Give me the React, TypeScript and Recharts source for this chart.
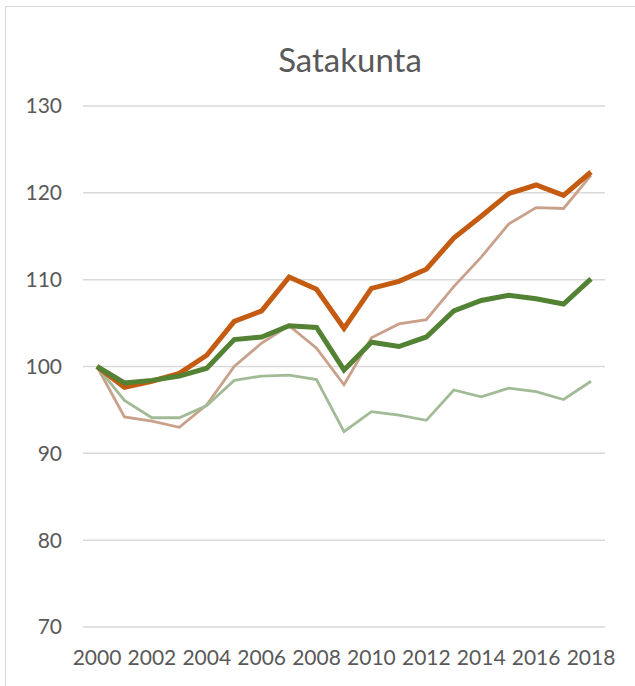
import { LineChart, Line, XAxis, YAxis, CartesianGrid } from 'recharts';

// Satakunta index, 2000 = 100
const years = [
  '2000', '2001', '2002', '2003', '2004', '2005', '2006', '2007', '2008', '2009',
  '2010', '2011', '2012', '2013', '2014', '2015', '2016', '2017', '2018',
];

const orangeThick = [
  100, 97.6, 98.3, 99.2, 101.3, 105.2, 106.4, 110.3, 108.9, 104.4,
  109.0, 109.8, 111.2, 114.8, 117.3, 119.9, 120.9, 119.7, 122.4,
];
const tanThin = [
  100, 94.2, 93.7, 93.0, 95.6, 100.0, 102.7, 104.7, 102.1, 97.9,
  103.3, 104.9, 105.4, 109.2, 112.6, 116.4, 118.3, 118.2, 122.0,
];
const greenThick = [
  100, 98.1, 98.4, 98.9, 99.8, 103.1, 103.4, 104.7, 104.5, 99.6,
  102.8, 102.3, 103.4, 106.4, 107.6, 108.2, 107.8, 107.2, 110.1,
];
const greenThin = [
  100, 96.1, 94.1, 94.1, 95.5, 98.4, 98.9, 99.0, 98.5, 92.5,
  94.8, 94.4, 93.8, 97.3, 96.5, 97.5, 97.1, 96.2, 98.3,
];

const yTicks = [70, 80, 90, 100, 110, 120, 130];

const data = years.map((year, i) => ({
  year,
  orangeThick: orangeThick[i],
  tanThin: tanThin[i],
  greenThick: greenThick[i],
  greenThin: greenThin[i],
}));

const font = 'Lato, "Open Sans", sans-serif';
const tickStyle = { fill: '#595959', fontSize: 21, fontFamily: font };

export default function App() {
  return (
    <div style={{ position: 'absolute', left: 0, top: 0, width: 635, height: 686, background: '#fff', overflow: 'hidden' }}>
      <div
        style={{
          position: 'absolute',
          left: 5,
          top: 6,
          width: 640,
          height: 700,
          border: '1px solid #D9D9D9',
        }}
      />
      <div
        style={{
          position: 'absolute',
          left: 200,
          width: 300,
          top: 39,
          textAlign: 'center',
          fontFamily: font,
          fontSize: 33,
          lineHeight: 'normal',
          color: '#595959',
        }}
      >
        Satakunta
      </div>
      <div style={{ position: 'absolute', left: 0, top: 0 }}>
        <LineChart
          width={635}
          height={686}
          data={data}
          margin={{ top: 106, right: 30, left: 23, bottom: 29 }}
        >
          <CartesianGrid vertical={false} stroke="#D9D9D9" strokeWidth={1.5} />
          <XAxis
            dataKey="year"
            interval={1}
            axisLine={false}
            tickLine={false}
            tickMargin={17}
            height={30}
            padding={{ left: 14, right: 14 }}
            tick={tickStyle}
          />
          <YAxis
            domain={[70, 130]}
            ticks={yTicks}
            axisLine={false}
            tickLine={false}
            tickMargin={15}
            width={60}
            tick={tickStyle}
          />
          <Line
            dataKey="tanThin"
            stroke="#C9A18B"
            strokeWidth={2.8}
            dot={false}
            isAnimationActive={false}
          />
          <Line
            dataKey="greenThin"
            stroke="#A2BB97"
            strokeWidth={2.8}
            dot={false}
            isAnimationActive={false}
          />
          <Line
            dataKey="orangeThick"
            stroke="#C55A11"
            strokeWidth={5}
            dot={false}
            isAnimationActive={false}
          />
          <Line
            dataKey="greenThick"
            stroke="#548235"
            strokeWidth={5}
            dot={false}
            isAnimationActive={false}
          />
        </LineChart>
      </div>
    </div>
  );
}
